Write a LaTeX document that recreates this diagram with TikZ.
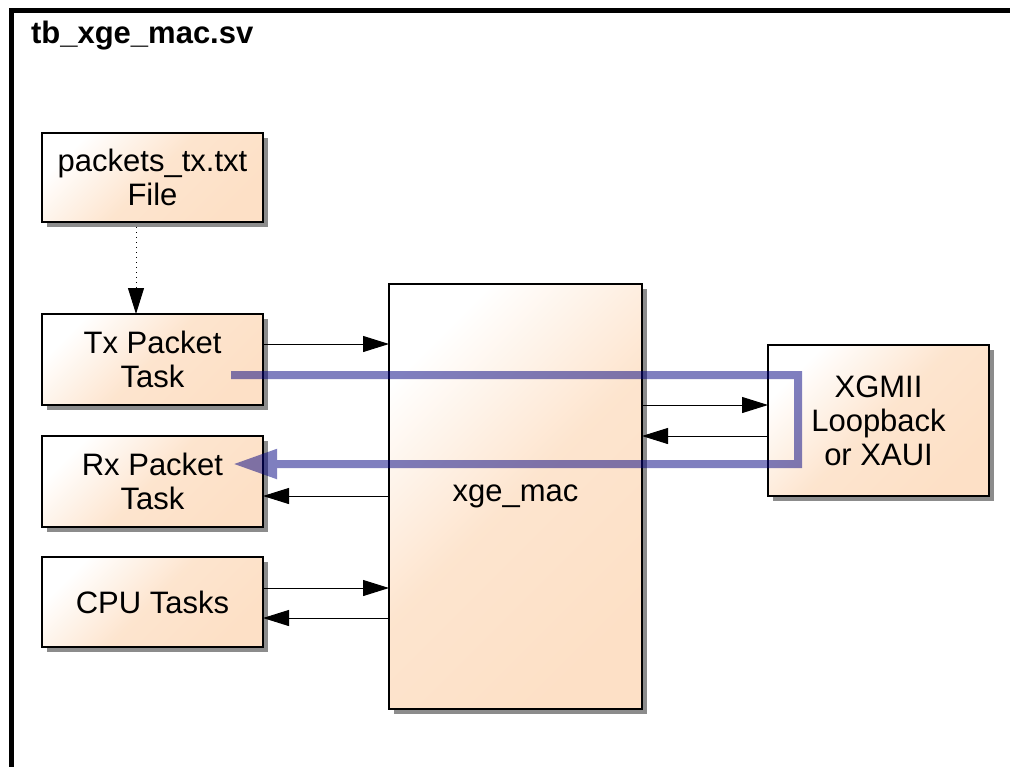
\documentclass[tikz,border=0pt]{standalone}
\usepackage{fontspec}
\setmainfont{Liberation Sans}
\usetikzlibrary{positioning, arrows.meta, shadows}
\definecolor{peach}{RGB}{253,224,198}
\definecolor{loopblue}{RGB}{0,0,128}

\begin{document}
\begin{tikzpicture}[x=0.5pt, y=-0.5pt,
    every node/.style={font=\fontsize{15.5}{17}\selectfont},
    block/.style={
            draw, line width=1pt, inner sep=0pt, outer sep=0pt, align=center,
            top color=white, bottom color=peach, middle color=peach!85!white, shading angle=45,
            drop shadow={shadow xshift=2.5pt, shadow yshift=-2.5pt, fill=black, opacity=0.45},
            minimum width=110.5pt, minimum height=45.5pt},
    link/.style={-{Triangle[length=13pt,width=8pt]}, line width=0.5pt},
    loopback/.style={-{Triangle[length=22pt,width=14pt]}, line width=4pt, draw=loopblue, line join=miter}]

\clip (0,0) rectangle (1010,766);

%frame====================================================================
\draw[line width=2.5pt] (11,10.5) rectangle (1040,800);
\node[anchor=base west, font=\fontsize{15.5}{17}\selectfont\bfseries] (title) at (24,43) {tb\_xge\_mac.sv};

%left column==============================================================
\node[block, minimum height=44.5pt] (file) at (152.5,177.5) {packets\_tx.txt\\File};
\node[block, below=46pt of file] (tx) {Tx Packet\\Task};
\node[block, below=15.5pt of tx] (rx) {Rx Packet\\Task};
\node[block, below=15pt of rx, minimum height=45pt] (cpu) {CPU Tasks};

%mac and loopback=========================================================
\node[block, minimum width=126.5pt, minimum height=212.5pt] (mac) at (515.5,496.5) {xge\_mac};
\node[block, minimum height=75.5pt] (xgmii) at (878.5,420.5) {XGMII\\Loopback\\or XAUI};

\draw[link, dotted] ([xshift=-8.25pt]file.south) -- ([xshift=-8.25pt]tx.north);
\draw[link] ([yshift=7.75pt]tx.east) -- ([yshift=7.75pt]tx.east -| mac.west);
\draw[link] ([yshift=-7.25pt]rx.east -| mac.west) -- ([yshift=-7.25pt]rx.east);
\draw[link] ([yshift=7pt]cpu.east) -- ([yshift=7pt]cpu.east -| mac.west);
\draw[link] ([yshift=-8pt]cpu.east -| mac.west) -- ([yshift=-8pt]cpu.east);
\draw[link] ([yshift=7.75pt]xgmii.west -| mac.east) -- ([yshift=7.75pt]xgmii.west);
\draw[link] ([yshift=-7.75pt]xgmii.west) -- ([yshift=-7.75pt]xgmii.west -| mac.east);

%loopback path============================================================
\begin{scope}[transparency group, opacity=0.5]
\draw[loopback] ([xshift=-16pt,yshift=-7.75pt]tx.east) -| ([xshift=15pt,yshift=-21.75pt]xgmii.west) coordinate (lbturn) -- ([xshift=-15pt]rx.east |- lbturn);
\end{scope}
%=======================================================================
\end{tikzpicture}
\end{document}
